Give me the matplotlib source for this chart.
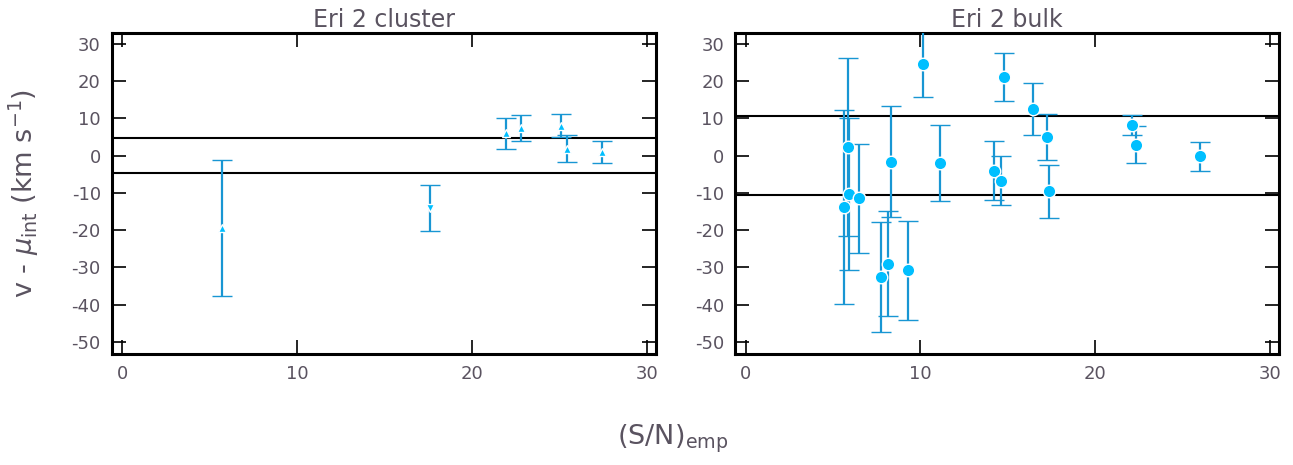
import matplotlib
matplotlib.use("Agg")
import matplotlib.pyplot as plt
import numpy as np

plt.rcParams['axes.unicode_minus'] = False
plt.rcParams['font.family'] = ['DejaVu Sans']
plt.rcParams['mathtext.fontset'] = 'dejavusans'

TEXT = '#5a5360'
ERR_COLOR = '#1896d3'
MARK_COLOR = '#00bfff'

# Eri 2 cluster
cl_sn = [5.7, 17.6, 21.9, 22.8, 25.1, 25.4, 27.4]
cl_dv = [-19.5, -14.1, 6.0, 7.4, 8.0, 1.8, 0.9]
cl_err = [18.3, 6.2, 4.2, 3.6, 3.1, 3.6, 3.0]
cl_marker = ['^', 'v', '^', '^', '^', '^', '^']
cl_band = 4.7

# Eri 2 bulk
bk_sn = [5.63, 5.87, 5.93, 6.46, 7.77, 8.13, 8.33, 9.31, 10.17, 11.13,
         14.23, 14.58, 14.77, 16.41, 17.24, 17.35, 22.08, 22.33, 25.99]
bk_dv = [-13.7, 2.3, -10.4, -11.5, -32.5, -29.0, -1.6, -30.8, 24.5, -2.0,
         -4.1, -6.7, 21.1, 12.5, 5.1, -9.6, 8.2, 2.9, -0.2]
bk_err = [26.0, 23.8, 20.4, 14.5, 14.7, 14.1, 14.8, 13.2, 8.9, 10.1,
          7.9, 6.5, 6.4, 7.1, 6.2, 7.1, 2.7, 5.0, 3.8]
bk_band = 10.6

titles = ['Eri 2 cluster', 'Eri 2 bulk']
xticks = [0, 10, 20, 30]
yticks = [30, 20, 10, 0, -10, -20, -30, -40, -50]

fig = plt.figure(figsize=(12.93, 4.65), dpi=100)
ax1 = fig.add_axes([0.0866, 0.239, 0.4207, 0.690])
ax2 = fig.add_axes([0.5685, 0.239, 0.4207, 0.690])

for x, y, e, m in zip(cl_sn, cl_dv, cl_err, cl_marker):
    ax1.errorbar(x, y, yerr=e, fmt=m, color=ERR_COLOR, ecolor=ERR_COLOR,
                 mfc=MARK_COLOR, mec='white', ms=6, mew=1.0,
                 elinewidth=1.6, capsize=7, capthick=1.6, zorder=3)
ax1.axhline(cl_band, color='black', lw=1.5, zorder=2)
ax1.axhline(-cl_band, color='black', lw=1.5, zorder=2)

ax2.errorbar(bk_sn, bk_dv, yerr=bk_err, fmt='o', color=ERR_COLOR,
             ecolor=ERR_COLOR, mfc=MARK_COLOR, mec='white', ms=9, mew=1.0,
             elinewidth=1.6, capsize=7, capthick=1.6, zorder=3)
ax2.axhline(bk_band, color='black', lw=1.5, zorder=2)
ax2.axhline(-bk_band, color='black', lw=1.5, zorder=2)

for ax, t in zip([ax1, ax2], titles):
    ax.set_xlim(-0.6, 30.5)
    ax.set_ylim(-53.2, 32.9)
    ax.set_xticks(xticks)
    ax.set_yticks(yticks)
    ax.tick_params(direction='in', length=10, width=1.2, top=True, right=True,
                   labelsize=13, labelcolor=TEXT, color='black', pad=8)
    for s in ax.spines.values():
        s.set_linewidth(2.2)
        s.set_color('black')
    ax.set_title(t, fontsize=17, color=TEXT, pad=4)

ax1.set_ylabel('v - $\\mu_{\\rm int}$ (km s$^{\u2212 1}$)', fontsize=19.5, color=TEXT)
ax1.yaxis.set_label_coords(-0.131, 0.5)
fig.text(0.5205, 0.057, r'(S/N)$_{\rm emp}$', fontsize=19.5, color=TEXT, ha='center', va='center')

fig.savefig('out.png', dpi=100)
